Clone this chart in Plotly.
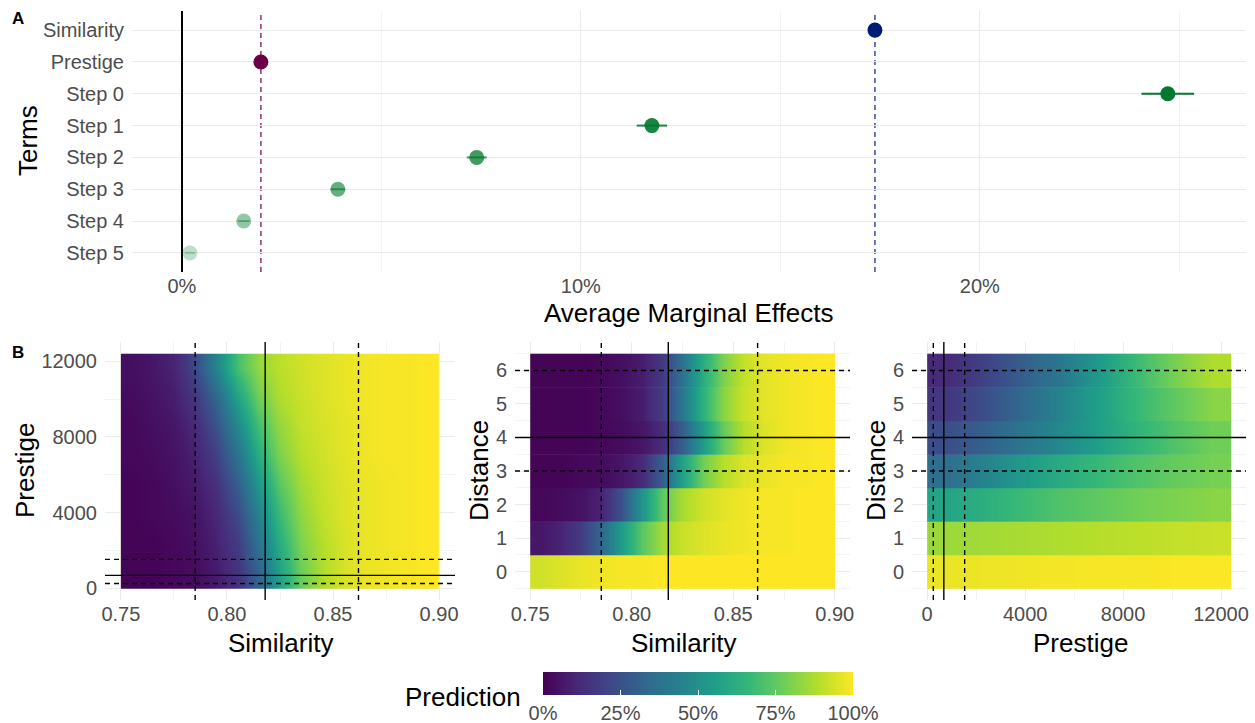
import plotly.graph_objects as go

W, H = 1255, 723
FONT = "Liberation Sans, Arial, sans-serif"
TICK_COL = "#4d4d4d"
GRID = "#ebebeb"
GRID_MINOR = "#f3f3f3"

# ---------------- Panel A data ----------------
terms = ["Similarity", "Prestige", "Step 0", "Step 1", "Step 2", "Step 3", "Step 4", "Step 5"]
ame = [0.1737, 0.0198, 0.2471, 0.1178, 0.0739, 0.0391, 0.0155, 0.0020]
ame_lo = [0.1732, 0.0194, 0.2405, 0.1140, 0.0714, 0.0373, 0.0140, 0.0008]
ame_hi = [0.1742, 0.0202, 0.2537, 0.1216, 0.0764, 0.0409, 0.0170, 0.0032]
term_rgb = [(0, 27, 116), (107, 0, 70), (0, 120, 47), (0, 120, 47), (0, 120, 47),
            (0, 120, 47), (0, 120, 47), (0, 120, 47)]
term_alpha = [1.0, 1.0, 1.0, 0.9, 0.75, 0.6, 0.42, 0.25]
ref_terms = ["Similarity", "Prestige"]
ref_line_rgba = ["rgba(40,55,150,0.85)", "rgba(125,30,95,0.85)"]
pct_ticks = [0.0, 0.1, 0.2]
pct_labels = ["0%", "10%", "20%"]

# ---------------- Panel B data ----------------
sim_centers = [0.755, 0.765, 0.775, 0.785, 0.795, 0.805, 0.815, 0.825,
               0.835, 0.845, 0.855, 0.865, 0.875, 0.885, 0.895]
prestige_centers = [775, 2325, 3875, 5425, 6975, 8525, 10075, 11625]
distances = [0, 1, 2, 3, 4, 5, 6]
sim_ticks = [0.75, 0.80, 0.85, 0.90]
sim_tick_labels = ["0.75", "0.80", "0.85", "0.90"]
prestige_ticks = [0, 4000, 8000, 12000]
prestige_tick_labels = ["0", "4000", "8000", "12000"]

# Similarity x Prestige (rows: prestige_centers bottom->top)
pred_sim_prestige = [
    [0.01, 0.01, 0.02, 0.03, 0.07, 0.15, 0.32, 0.57, 0.77, 0.88, 0.94, 0.97, 0.98, 0.99, 1.00],
    [0.01, 0.01, 0.02, 0.04, 0.09, 0.18, 0.38, 0.62, 0.80, 0.89, 0.94, 0.97, 0.98, 0.99, 1.00],
    [0.01, 0.02, 0.03, 0.05, 0.11, 0.23, 0.45, 0.68, 0.83, 0.91, 0.95, 0.97, 0.98, 0.99, 1.00],
    [0.01, 0.02, 0.04, 0.07, 0.14, 0.30, 0.53, 0.74, 0.86, 0.92, 0.95, 0.97, 0.98, 0.99, 1.00],
    [0.02, 0.03, 0.05, 0.09, 0.19, 0.38, 0.62, 0.80, 0.89, 0.93, 0.96, 0.98, 0.99, 0.99, 1.00],
    [0.02, 0.04, 0.06, 0.12, 0.25, 0.47, 0.70, 0.84, 0.91, 0.94, 0.96, 0.98, 0.99, 0.99, 1.00],
    [0.03, 0.05, 0.08, 0.16, 0.33, 0.58, 0.78, 0.88, 0.92, 0.95, 0.97, 0.98, 0.99, 0.99, 1.00],
    [0.04, 0.06, 0.10, 0.22, 0.45, 0.70, 0.84, 0.90, 0.93, 0.95, 0.97, 0.98, 0.99, 0.99, 1.00],
]

# Similarity x Distance (rows: distance 0..6)
pred_sim_distance = [
    [0.93, 0.95, 0.97, 0.98, 0.99, 0.99, 1.00, 1.00, 1.00, 1.00, 1.00, 1.00, 1.00, 1.00, 1.00],
    [0.06, 0.10, 0.18, 0.33, 0.55, 0.74, 0.86, 0.92, 0.95, 0.97, 0.98, 0.99, 0.99, 1.00, 1.00],
    [0.02, 0.03, 0.05, 0.10, 0.25, 0.52, 0.75, 0.87, 0.93, 0.96, 0.98, 0.99, 0.99, 1.00, 1.00],
    [0.01, 0.01, 0.02, 0.03, 0.06, 0.12, 0.30, 0.57, 0.78, 0.89, 0.95, 0.97, 0.99, 0.99, 1.00],
    [0.01, 0.01, 0.01, 0.02, 0.03, 0.06, 0.13, 0.30, 0.55, 0.76, 0.89, 0.95, 0.98, 0.99, 1.00],
    [0.01, 0.01, 0.01, 0.02, 0.04, 0.08, 0.18, 0.40, 0.64, 0.82, 0.92, 0.96, 0.98, 0.99, 1.00],
    [0.01, 0.01, 0.01, 0.02, 0.04, 0.08, 0.17, 0.38, 0.62, 0.80, 0.91, 0.96, 0.98, 0.99, 1.00],
]

# Prestige x Distance (rows: distance 0..6)
pred_prestige_distance = [
    [0.97, 0.975, 0.98, 0.985, 0.99, 0.99, 0.995, 0.995],
    [0.85, 0.86, 0.87, 0.88, 0.89, 0.90, 0.91, 0.92],
    [0.58, 0.63, 0.68, 0.72, 0.75, 0.78, 0.80, 0.82],
    [0.36, 0.45, 0.54, 0.61, 0.67, 0.72, 0.76, 0.79],
    [0.24, 0.31, 0.39, 0.47, 0.56, 0.65, 0.72, 0.78],
    [0.16, 0.24, 0.34, 0.45, 0.56, 0.67, 0.75, 0.82],
    [0.12, 0.20, 0.30, 0.40, 0.54, 0.68, 0.79, 0.88],
]

sim_lines = [0.785, 0.818, 0.862]
prestige_lines = [250, 680, 1530]
distance_lines = [3, 4, 6]
line_styles = ["dash", "solid", "dash"]

pred_ticks = [0, 0.25, 0.5, 0.75, 1.0]
pred_labels = ["0%", "25%", "50%", "75%", "100%"]

TICK_SIZE = 20
TITLE_SIZE = 26


def fx(px):
    return px / W


def fy(py):
    return 1 - py / H


fig = go.Figure()

# ---------------- Panel A traces ----------------
for i, t in enumerate(terms):
    r, g, b = term_rgb[i]
    col = f"rgba({r},{g},{b},{term_alpha[i]})"
    fig.add_trace(go.Scatter(
        x=[ame[i]], y=[t], mode="markers",
        marker=dict(size=15, color=col, line=dict(width=0)),
        error_x=dict(type="data", symmetric=False,
                     array=[ame_hi[i] - ame[i]], arrayminus=[ame[i] - ame_lo[i]],
                     width=0, thickness=2, color=col),
        xaxis="x", yaxis="y", showlegend=False, hoverinfo="skip",
    ))

shapes = []
for t, c in zip(ref_terms, ref_line_rgba):
    v = ame[terms.index(t)]
    shapes.append(dict(type="line", xref="x", yref="y domain", x0=v, x1=v, y0=0, y1=1,
                       line=dict(color=c, width=1.6, dash="5px,4px"), layer="below"))

# ---------------- Panel B traces ----------------
cbar = dict(orientation="h", x=fx((543 + 853) / 2), xanchor="center",
            y=fy(672), yanchor="top", len=310 / W, lenmode="fraction",
            thickness=23, outlinewidth=0, xpad=0, ypad=0,
            tickvals=pred_ticks, ticktext=pred_labels,
            tickfont=dict(size=TICK_SIZE, color=TICK_COL, family=FONT),
            ticks="inside", ticklen=5, tickcolor="white", tickwidth=1)

fig.add_trace(go.Heatmap(
    x=sim_centers, y=prestige_centers, z=pred_sim_prestige,
    colorscale="Viridis", zmin=0, zmax=1, zsmooth="best",
    xaxis="x2", yaxis="y2", colorbar=cbar, showscale=True, hoverinfo="skip",
))

for d, row in zip(distances, pred_sim_distance):
    fig.add_trace(go.Heatmap(
        x=sim_centers, y=[d], z=[row],
        colorscale="Viridis", zmin=0, zmax=1, zsmooth="best",
        xaxis="x3", yaxis="y3", showscale=False, hoverinfo="skip",
    ))

for d, row in zip(distances, pred_prestige_distance):
    fig.add_trace(go.Heatmap(
        x=prestige_centers, y=[d], z=[row],
        colorscale="Viridis", zmin=0, zmax=1, zsmooth="best",
        xaxis="x4", yaxis="y4", showscale=False, hoverinfo="skip",
    ))


def vline(xref, yref, v, style):
    return dict(type="line", xref=xref, yref=yref + " domain", x0=v, x1=v, y0=0, y1=1,
                line=dict(color="black", width=1.4, dash=style if style == "solid" else "5px,4px"),
                layer="above")


def hline(xref, yref, v, style):
    return dict(type="line", xref=xref + " domain", yref=yref, x0=0, x1=1, y0=v, y1=v,
                line=dict(color="black", width=1.4, dash=style if style == "solid" else "5px,4px"),
                layer="above")


for v, s in zip(sim_lines, line_styles):
    shapes.append(vline("x2", "y2", v, s))
    shapes.append(vline("x3", "y3", v, s))
for v, s in zip(prestige_lines, line_styles):
    shapes.append(hline("x2", "y2", v, s))
    shapes.append(vline("x4", "y4", v, s))
for v, s in zip(distance_lines, line_styles):
    shapes.append(hline("x3", "y3", v, s))
    shapes.append(hline("x4", "y4", v, s))

tickfont = dict(size=TICK_SIZE, color=TICK_COL, family=FONT)
base = dict(showline=False, gridcolor=GRID, gridwidth=1.1, tickfont=tickfont,
            fixedrange=True, automargin=False, zeroline=False)
xcommon = dict(base, ticks="")
ycommon = dict(base, ticks="outside", tickcolor="rgba(0,0,0,0)", ticklen=3)
minor_style = dict(showgrid=True, gridcolor=GRID_MINOR, gridwidth=0.8, ticks="")

bot_dom = [fy(600), fy(342)]

xaxis_top = dict(xcommon, zeroline=True, zerolinecolor="black", zerolinewidth=1.5)

fig.update_layout(
    width=W, height=H, margin=dict(l=0, r=0, t=0, b=0, pad=0, autoexpand=False),
    paper_bgcolor="white", plot_bgcolor="white",
    font=dict(family=FONT, color="black"),
    showlegend=False,
    xaxis=dict(domain=[fx(132), fx(1246)], range=[-0.0125, 0.2667],
               tickvals=pct_ticks, ticktext=pct_labels,
               minor=dict(tickvals=[0.05, 0.15, 0.25], **minor_style), **xaxis_top),
    yaxis=dict(domain=[fy(272), fy(11)], type="category",
               categoryorder="array", categoryarray=terms[::-1],
               range=[-0.6, 7.6], **ycommon),
    xaxis2=dict(domain=[fx(105), fx(455)], range=[0.7425, 0.9075], anchor="y2",
                tickvals=sim_ticks, ticktext=sim_tick_labels,
                minor=dict(tickvals=[0.775, 0.825, 0.875], **minor_style), **xcommon),
    yaxis2=dict(domain=bot_dom, range=[-620, 13020], anchor="x2",
                tickvals=prestige_ticks, ticktext=prestige_tick_labels,
                minor=dict(tickvals=[2000, 6000, 10000], **minor_style), **ycommon),
    xaxis3=dict(domain=[fx(515), fx(850)], range=[0.7425, 0.9075], anchor="y3",
                tickvals=sim_ticks, ticktext=sim_tick_labels,
                minor=dict(tickvals=[0.775, 0.825, 0.875], **minor_style), **xcommon),
    yaxis3=dict(domain=bot_dom, range=[-0.85, 6.85], anchor="x3",
                tickvals=distances,
                minor=dict(tickvals=[-0.5, 0.5, 1.5, 2.5, 3.5, 4.5, 5.5, 6.5], **minor_style),
                **ycommon),
    xaxis4=dict(domain=[fx(912), fx(1246)], range=[-620, 13020], anchor="y4",
                tickvals=prestige_ticks, ticktext=prestige_tick_labels,
                minor=dict(tickvals=[2000, 6000, 10000], **minor_style), **xcommon),
    yaxis4=dict(domain=bot_dom, range=[-0.85, 6.85], anchor="x4",
                tickvals=distances,
                minor=dict(tickvals=[-0.5, 0.5, 1.5, 2.5, 3.5, 4.5, 5.5, 6.5], **minor_style),
                **ycommon),
    shapes=shapes,
)

title_font = dict(size=TITLE_SIZE, color="black", family=FONT)
ann = [
    dict(text="<b>A</b>", x=fx(18), y=fy(18), font=dict(size=17, color="black", family=FONT)),
    dict(text="<b>B</b>", x=fx(18), y=fy(352), font=dict(size=17, color="black", family=FONT)),
    dict(text="Terms", x=fx(28), y=fy(141), textangle=-90, font=title_font),
    dict(text="Average Marginal Effects", x=fx(689), y=fy(313), font=title_font),
    dict(text="Prestige", x=fx(25), y=fy(471), textangle=-90, font=title_font),
    dict(text="Similarity", x=fx(280), y=fy(643), font=title_font),
    dict(text="Distance", x=fx(479), y=fy(471), textangle=-90, font=title_font),
    dict(text="Similarity", x=fx(683), y=fy(643), font=title_font),
    dict(text="Distance", x=fx(876), y=fy(471), textangle=-90, font=title_font),
    dict(text="Prestige", x=fx(1080), y=fy(643), font=title_font),
    dict(text="Prediction", x=fx(463), y=fy(697), font=title_font),
]
for a in ann:
    a.update(xref="paper", yref="paper", showarrow=False, xanchor="center", yanchor="middle")
fig.update_layout(annotations=ann)

fig.write_html("out.html", config={"displayModeBar": False},
               post_script="document.body.style.margin='0px';document.body.style.overflow='hidden';")
